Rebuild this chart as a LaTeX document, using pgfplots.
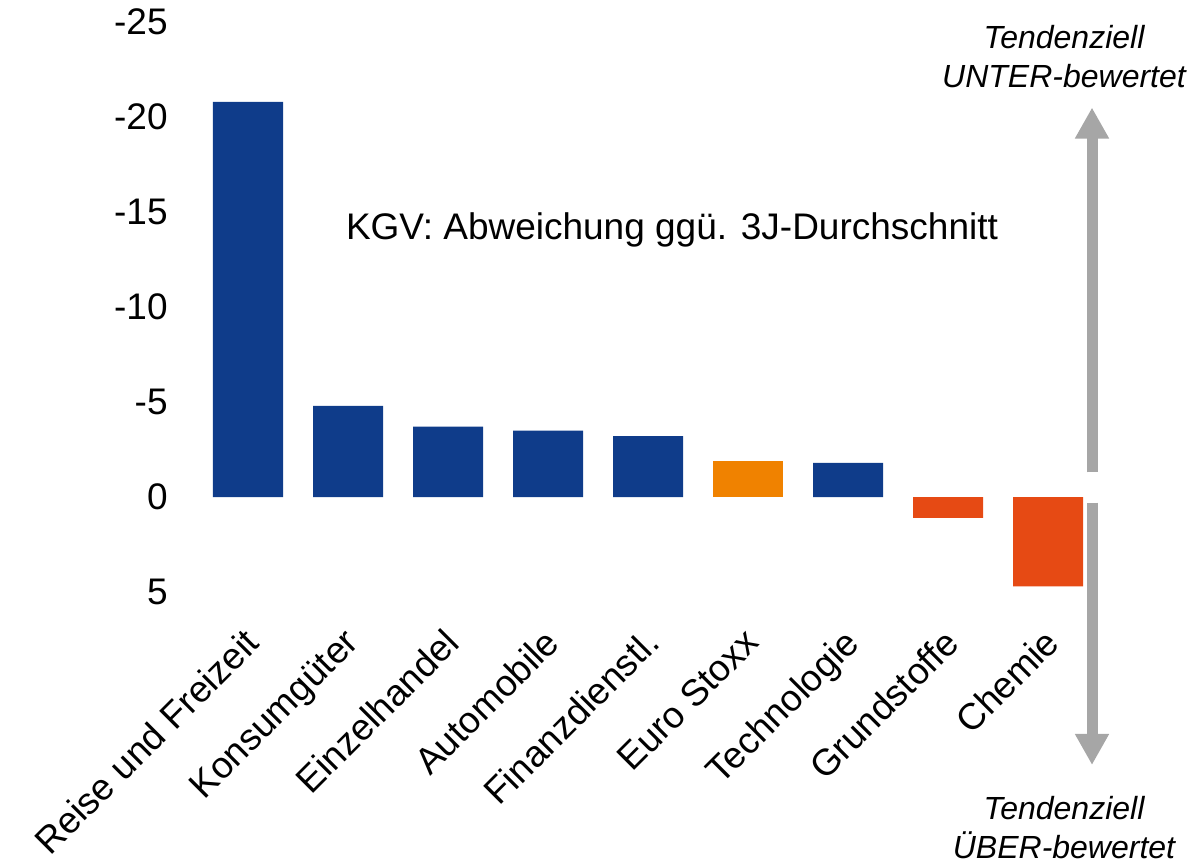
\documentclass[border=0pt]{standalone}
\usepackage{fontspec}
\setmainfont{Liberation Sans}
\usepackage{pgfplots}
\pgfplotsset{compat=1.18}
\usetikzlibrary{arrows.meta}
\definecolor{kblue}{HTML}{0F3C8A}
\definecolor{korange}{HTML}{F08200}
\definecolor{kred}{HTML}{E64A14}
\definecolor{kgray}{HTML}{A6A6A6}
\newcommand{\bigfont}{\fontsize{18.5pt}{22pt}\selectfont}
\newcommand{\notefont}{\fontsize{16pt}{19.5pt}\selectfont}

\begin{document}
\begin{tikzpicture}
\begin{axis}[
  x=50pt, y=9.5pt,
  y dir=reverse,
  xmin=-0.75, xmax=8.75,
  ymin=-25, ymax=5,
  ybar, bar width=35pt, bar shift=0pt,
  axis line style={draw=none},
  tick style={draw=none},
  ytick={-25,-20,-15,-10,-5,0,5},
  yticklabels={-25,-20,-15,-10,-5,0,5},
  yticklabel style={font=\bigfont, inner sep=0pt, xshift=-2.5pt},
  xtick={0,...,8},
  xticklabels={Reise und Freizeit,Konsumgüter,Einzelhandel,Automobile,Finanzdienstl.,Euro Stoxx,Technologie,Grundstoffe,Chemie},
  xticklabel style={font=\bigfont, rotate=45, anchor=north east, inner sep=0pt, xshift=-11pt, yshift=-7pt},
  clip=false,
]
\addplot[fill=kblue, draw=none] coordinates {
  (0,-20.8) (1,-4.8) (2,-3.7) (3,-3.5) (4,-3.2) (6,-1.8)
};
\addplot[fill=korange, draw=none] coordinates {(5,-1.9)};
\addplot[fill=kred, draw=none] coordinates {(7,1.1) (8,4.7)};

\node[font=\bigfont] at (axis cs:4.24,-14.05) {KGV: Abweichung ggü. 3J-Durchschnitt};

\draw[kgray, line width=5.5pt, -{Triangle[width=16pt,length=15.5pt]}]
  (axis cs:8.44,-1.3) -- (axis cs:8.44,-20.5);
\draw[kgray, line width=5.5pt, -{Triangle[width=16pt,length=15.5pt]}]
  (axis cs:8.44,0.3) -- (axis cs:8.44,14.1);

\node[font=\notefont\itshape, align=center, inner sep=0pt] at (axis cs:8.16,-23.2) {Tendenziell\\UNTER-bewertet};
\node[font=\notefont\itshape, align=center, inner sep=0pt] at (axis cs:8.16,17.4) {Tendenziell\\ÜBER-bewertet};

\path (axis cs:-2.48,-26.16) (axis cs:9.4,19.42);
\end{axis}
\end{tikzpicture}
\end{document}
